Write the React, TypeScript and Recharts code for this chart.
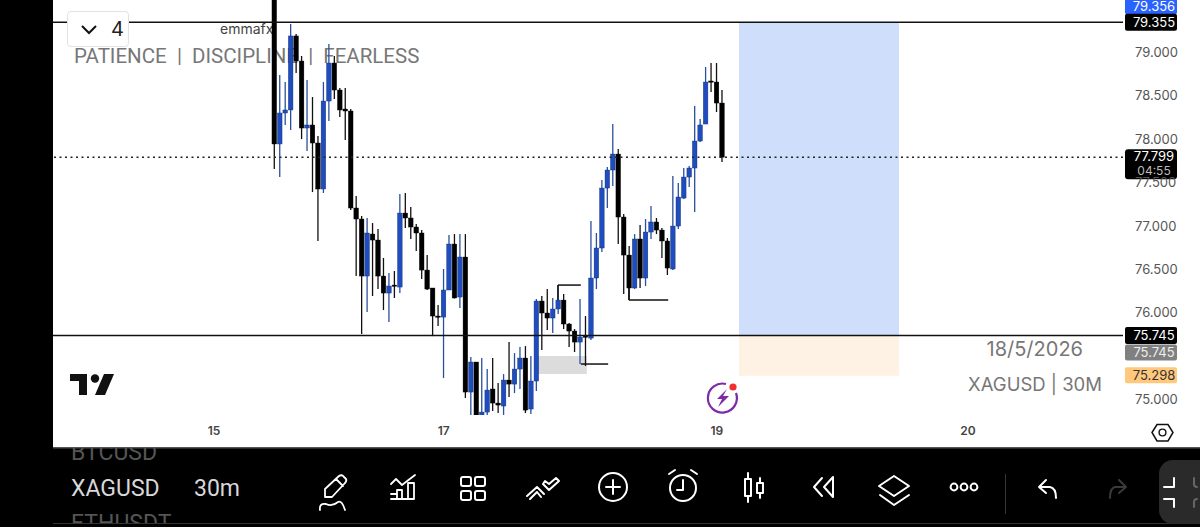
import React from "react";
import { ComposedChart, Bar, XAxis, YAxis, ReferenceLine, ReferenceArea, ReferenceDot } from "recharts";

const highs = [79.75,78.746,78.665,79.334,79.219,78.965,78.688,78.492,78.043,78.665,79.103,78.965,78.596,78.596,78.354,77.351,77.121,77.098,77.04,76.971,76.637,76.464,76.487,77.374,77.386,77.224,77.028,76.959,76.671,76.291,76.095,76.51,76.902,76.913,76.913,76.913,75.495,75.438,75.484,75.357,75.484,75.196,75.299,75.668,75.541,75.611,75.622,75.507,76.164,76.199,76.279,76.176,76.325,76.222,75.887,75.818,76.164,75.968,77.063,76.925,77.536,77.686,78.181,77.893,77.144,76.775,76.913,77.017,77.086,77.236,77.098,76.982,76.867,77.582,77.501,77.674,77.697,78.389,78.239,78.838,78.884,78.884,78.573];
const opens = [79.7,77.951,78.308,78.343,79.196,78.907,78.135,78.17,77.962,77.432,78.446,78.884,78.573,78.354,78.331,77.213,77.086,76.429,76.913,76.844,76.429,76.233,76.325,76.302,77.155,77.098,76.994,76.925,76.498,76.291,75.968,75.956,76.268,76.798,76.187,76.648,75.092,75.438,74.7,74.861,75.127,74.965,74.931,75.23,75.184,75.357,75.484,74.896,75.219,76.141,76.003,75.945,76.049,76.152,75.876,75.795,75.668,75.737,75.714,76.406,76.752,77.443,77.651,77.835,77.109,76.671,76.291,76.856,76.406,76.936,77.052,76.959,76.833,76.51,77.005,77.328,77.57,77.674,77.985,78.181,78.677,78.665,78.423];
const closes = [77.951,78.308,78.343,79.196,78.907,78.135,78.17,77.962,77.432,78.446,78.884,78.573,78.343,78.331,77.213,77.086,76.429,76.925,76.844,76.429,76.233,76.314,76.314,77.155,77.098,76.994,76.925,76.498,76.279,75.968,75.956,76.268,76.798,76.176,76.648,75.092,75.438,74.7,74.861,75.115,74.965,74.942,75.23,75.184,75.357,75.484,74.884,75.219,76.141,76.003,75.945,76.049,76.152,75.876,75.795,75.668,75.726,75.726,76.406,76.752,77.443,77.651,77.835,77.109,76.671,76.291,76.856,76.406,76.936,77.052,76.959,76.833,76.521,77.005,77.34,77.57,77.674,77.985,78.17,78.665,78.665,78.423,77.799];
const lows = [77.662,77.57,78.17,78.112,78.769,78.008,77.87,77.397,76.833,77.386,78.216,78.469,78.262,77.997,77.19,76.429,75.761,76.014,76.199,76.279,76.037,75.899,76.176,76.233,76.982,76.856,76.717,76.395,76.268,75.737,75.853,75.253,76.268,76.17,76.06,75.023,74.758,74.65,74.65,74.804,74.873,74.85,74.804,75.034,75.08,75.127,74.85,74.838,75.103,75.576,75.807,75.772,75.991,75.818,75.611,75.553,75.415,75.392,75.691,76.279,76.706,77.213,77.467,76.798,76.222,76.152,76.279,76.291,76.314,76.856,76.913,76.637,76.441,76.498,76.971,77.317,77.455,77.167,77.974,78.181,78.55,78.319,77.743];

const candles = highs.map((high, i) => ({ i, high, low: lows[i], open: opens[i], close: closes[i] }));

const priceTicks = [79, 78.5, 78, 77.5, 77, 76.5, 76, 75];
const timeTickIndex = [-11, 31.1, 81.1, 127.1];
const timeTickLabels = ["15", "17", "19", "20"];

const levelTop = 79.355;
const levelBottom = 75.745;
const levelLast = 77.799;
const targetStop = 75.28;

const positionStart = 85.16;
const positionEnd = 114.47;
const grayStart = 48;
const grayEnd = 57.3;
const grayTop = 75.507;
const grayBottom = 75.299;

const segments = [
  [[52, 76.325], [56.2, 76.325]],
  [[52, 76.325], [52, 76.152]],
  [[65, 76.291], [65, 76.152]],
  [[65, 76.152], [72.2, 76.152]],
  [[56.2, 75.415], [61.2, 75.415]],
];

const tags = [
  { value: 79.355, label: "79.356", bg: "#2962ff", fg: "#fff", dy: -16, h: 16 },
  { value: 79.355, label: "79.355", bg: "#000", fg: "#fff", dy: 0, h: 17 },
  { value: 75.745, label: "75.745", bg: "#000", fg: "#fff", dy: 0, h: 17 },
  { value: 75.745, label: "75.745", bg: "#808080", fg: "#eee", dy: 17, h: 16 },
  { value: 75.298, label: "75.298", bg: "#ffc87c", fg: "#333", dy: 1, h: 16 },
];

const BLUE = "#1f4dbf";
const sans = "Inter, Roboto, sans-serif";

function Candle(props: any) {
  const { x, y, width, height, payload } = props;
  const range = payload.high - payload.low;
  const k = range > 0 ? height / range : 0;
  const top = y + (payload.high - Math.max(payload.open, payload.close)) * k;
  const bot = y + (payload.high - Math.min(payload.open, payload.close)) * k;
  const up = payload.close >= payload.open;
  const cx = x + width / 2;
  const col = up ? BLUE : "#000";
  return (
    <g>
      <line x1={cx} x2={cx} y1={y} y2={y + height} stroke={up ? "#2a4f9e" : "#111"} strokeWidth={1.3} />
      <rect x={cx - 2.3} y={top} width={4.6} height={Math.max(bot - top, 1.2)} fill={col} stroke={up ? "#12306e" : "#000"} strokeWidth={0.4} />
    </g>
  );
}

function PriceTick(props: any) {
  const { x, y, payload } = props;
  return (
    <text x={x} y={y + 4} fontSize={13} fontFamily={sans} fill="#555" textAnchor="start">
      {payload.value.toFixed(3)}
    </text>
  );
}

function TimeTick(props: any) {
  const { x, y, payload } = props;
  const idx = timeTickIndex.indexOf(payload.value);
  return (
    <text x={x} y={y + 4} fontSize={12} fontWeight={600} fontFamily={sans} fill="#444" textAnchor="middle">
      {timeTickLabels[idx]}
    </text>
  );
}

function Tag(t: any) {
  return (props: any) => {
    const { cx, cy } = props;
    const mid = cy + t.dy;
    return (
      <g>
        <rect x={cx + 2} y={mid - t.h / 2} width={52} height={t.h} rx={2} fill={t.bg} />
        <text x={cx + 31} y={mid + 4.5} fontSize={13} fontFamily={sans} fill={t.fg} textAnchor="middle">{t.label}</text>
      </g>
    );
  };
}

function LastTag(props: any) {
  const { cx, cy } = props;
  return (
    <g>
      <rect x={cx + 2} y={cy - 8} width={52} height={30} rx={3} fill="#000" />
      <text x={cx + 31} y={cy + 4} fontSize={13} fontFamily={sans} fill="#fff" textAnchor="middle">77.799</text>
      <text x={cx + 31} y={cy + 18} fontSize={12} fontFamily={sans} fill="#bbb" textAnchor="middle">04:55</text>
    </g>
  );
}

const ic = { fill: "none", stroke: "#fff", strokeWidth: 2, strokeLinecap: "round" as const, strokeLinejoin: "round" as const };

function Toolbar() {
  return (
    <svg width={1200} height={527} style={{ position: "absolute", left: 0, top: 0 }}>
      <defs>
        <clipPath id="barClip">
          <rect x={0} y={448} width={1200} height={76} />
        </clipPath>
      </defs>
      <rect x={0} y={0} width={53} height={527} fill="#000" />
      <rect x={0} y={447} width={1200} height={80} fill="#000" />
      {/* TradingView mark */}
      <g fill="#111">
        <path d="M70 374 H87 V395 H79 V381 H70 Z" />
        <circle cx={95} cy={378.5} r={4.2} />
        <path d="M104 374 H114 L105 395 H95 Z" />
      </g>
      {/* flash icon */}
      <path d="M736 393 A14.5 14.5 0 1 1 726 384" fill="none" stroke="#7d2aa8" strokeWidth={2.2} />
      <path d="M727 389 L717 399 H722 L718 407 L729 396 H723 Z" fill="#7d2aa8" />
      <circle cx={733} cy={387} r={3.6} fill="#f03030" />
      {/* settings hexagon */}
      <path d="M1152 432.5 L1157 424.5 H1168 L1173 432.5 L1168 441 H1157 Z" fill="none" stroke="#111" strokeWidth={1.5} />
      <circle cx={1162.5} cy={432.5} r={3.4} fill="none" stroke="#111" strokeWidth={1.4} />
      {/* side labels */}
      <g fontFamily="Roboto, sans-serif" clipPath="url(#barClip)">
        <text x={71} y={460} fontSize={23} fill="#555">BTCUSD</text>
        <text x={71} y={495.5} fontSize={23} fill="#d8d8d8">XAGUSD</text>
        <text x={194} y={495.5} fontSize={23} fill="#d8d8d8">30m</text>
        <text x={71} y={531} fontSize={23} fill="#555">ETHUSDT</text>
      </g>
      <rect x={53} y={523} width={1147} height={1} fill="#333" />
      <rect x={53} y={447} width={1147} height={1.5} fill="#555" />
      {/* pencil */}
      <g {...ic} strokeWidth={1.8}>
        <path d="M325 497 V489 L339 476 Q342 474 344 477 L346 479 Q347 481 345 483 L332 497 Z M336 479 L343 486" />
        <path d="M320 510 Q319 503 326 504 Q332 507 338 502 Q342 500 345 510" />
      </g>
      {/* indicators */}
      <g {...ic} strokeWidth={1.8}>
        <path d="M391 484 L396 479 L402 485 L415 475" />
        <path d="M391 499 H414 V483 H408 V499 M408 499 H402 V490 H397 V499 M391 494 H397" />
      </g>
      {/* grid */}
      <g {...ic}>
        <rect x={461} y={477} width={10} height={9} rx={2} />
        <rect x={475} y={477} width={10} height={9} rx={2} />
        <rect x={461} y={491} width={10} height={9} rx={2} />
        <rect x={475} y={491} width={10} height={9} rx={2} />
      </g>
      {/* strategy */}
      <g {...ic}>
        <path d="M527 496 L537 487 L544 494 M530 499 L537 492 L541 497" />
        <path d="M543 484 L549 490 L559 481 L556 478 L549 484 L545 481 Z" />
      </g>
      {/* plus */}
      <g {...ic}>
        <circle cx={613} cy={487} r={14} />
        <path d="M613 480 V494 M606 487 H620" />
      </g>
      {/* alarm */}
      <g {...ic}>
        <circle cx={683} cy={488} r={13} />
        <path d="M683 480 V490 H677 M669 474 L675 470 M697 474 L691 470" />
      </g>
      {/* candles */}
      <g {...ic}>
        <rect x={745} y={479} width={6} height={17} />
        <path d="M748 473 V479 M748 496 V502" />
        <rect x={757} y={483} width={6} height={10} />
        <path d="M760 478 V483 M760 493 V498" />
      </g>
      {/* rewind */}
      <g {...ic}>
        <path d="M822 478 L814 487 L822 496 M833 477 L824 487 L833 497 Z" />
      </g>
      {/* layers */}
      <g {...ic}>
        <path d="M894 476 L909 486 L894 496 L879 486 Z M880 495 L894 505 L909 495" />
      </g>
      {/* dots */}
      <g {...ic}>
        <circle cx={954} cy={487} r={3.4} />
        <circle cx={964} cy={487} r={3.4} />
        <circle cx={974} cy={487} r={3.4} />
      </g>
      <rect x={1005} y={474} width={1} height={40} fill="#333" />
      {/* undo */}
      <g {...ic}>
        <path d="M1046 480 L1039 487 L1046 493 M1039 487 H1050 Q1056 488 1056 498" />
      </g>
      {/* redo */}
      <g {...ic} stroke="#3a3a3a">
        <path d="M1119 480 L1126 487 L1119 493 M1126 487 H1115 Q1110 488 1110 498" />
      </g>
      {/* collapse button */}
      <rect x={1159} y={460} width={60} height={64} rx={14} fill="#2a2a2a" />
      <g {...ic}>
        <path d="M1174 478 V487 H1164 M1164 499 H1174 V507" />
      </g>
      <g {...ic} stroke="#666">
        <path d="M1194 478 V484 Q1194 487 1197 487 M1197 499 Q1194 499 1194 502 V507" />
      </g>
    </svg>
  );
}

export default function App() {
  return (
    <div style={{ position: "absolute", left: 0, top: 0, width: 1200, height: 527, background: "#fff", overflow: "hidden" }}>
      <div style={{ position: "absolute", left: 220, top: 20, fontFamily: sans, fontSize: 14, color: "#444" }}>emmafx</div>
      <div style={{ position: "absolute", left: 74, top: 44, fontFamily: "Roboto, sans-serif", fontSize: 20.5, color: "#777", whiteSpace: "pre" }}>{"PATIENCE  |  DISCIPLINE  |  FEARLESS"}</div>
      <div style={{ position: "absolute", right: 117, top: 337, fontFamily: sans, fontSize: 20, color: "#777" }}>18/5/2026</div>
      <div style={{ position: "absolute", right: 98, top: 373, fontFamily: sans, fontSize: 18.5, color: "#777" }}>XAGUSD | 30M</div>
      <div style={{ position: "absolute", left: 0, top: 0 }}>
        <ComposedChart
          width={1200}
          height={527}
          data={candles}
          margin={{ top: 0, right: 0, bottom: 80, left: 53 }}
          barSize={4}
        >
          <XAxis
            dataKey="i"
            type="number"
            domain={[-40.48, 155.5]}
            ticks={timeTickIndex}
            height={32}
            interval={0}
            axisLine={false}
            tickLine={false}
            tickMargin={10}
            tick={<TimeTick />}
            allowDataOverflow
          />
          <YAxis
            orientation="right"
            domain={[74.8275, 79.6105]}
            ticks={priceTicks}
            width={77}
            interval={0}
            axisLine={false}
            tickLine={false}
            tickMargin={6}
            tick={<PriceTick />}
            allowDataOverflow
          />
          <ReferenceArea x1={positionStart} x2={positionEnd} y1={levelTop} y2={levelBottom} fill="#cfdffb" fillOpacity={1} stroke="none" />
          <ReferenceArea x1={positionStart} x2={positionEnd} y1={levelBottom} y2={targetStop} fill="#fdf2e3" fillOpacity={1} stroke="none" />
          <ReferenceArea x1={grayStart} x2={grayEnd} y1={grayTop} y2={grayBottom} fill="#dcdcdc" fillOpacity={1} stroke="none" />
          <ReferenceLine y={levelTop} stroke="#111" strokeWidth={1.5} />
          <ReferenceLine y={levelBottom} stroke="#111" strokeWidth={1.5} />
          <ReferenceLine y={levelLast} stroke="#222" strokeWidth={1.5} strokeDasharray="2 3.5" />
          <Bar dataKey={(d: any) => [d.low, d.high]} shape={<Candle />} isAnimationActive={false} />
          {segments.map((s, i) => (
            <ReferenceLine key={i} segment={[{ x: s[0][0], y: s[0][1] }, { x: s[1][0], y: s[1][1] }]} stroke="#111" strokeWidth={1.5} />
          ))}
          {tags.map((t, i) => (
            <ReferenceDot key={i} x={155.5} y={t.value} ifOverflow="visible" shape={Tag(t)} />
          ))}
          <ReferenceDot x={155.5} y={levelLast} ifOverflow="visible" shape={LastTag} />
        </ComposedChart>
      </div>
      <Toolbar />
      <div style={{ position: "absolute", left: 67, top: 11, width: 62, height: 36, boxSizing: "border-box", background: "#fff", border: "1px solid #e2e2e2", borderRadius: 4, fontFamily: sans, fontSize: 20, color: "#222" }}>
        <svg width={20} height={12} style={{ position: "absolute", left: 12, top: 12 }}>
          <path d="M2 2 L9 9 L16 2" fill="none" stroke="#111" strokeWidth={2} />
        </svg>
        <span style={{ position: "absolute", left: 43, top: 5 }}>4</span>
      </div>
    </div>
  );
}
